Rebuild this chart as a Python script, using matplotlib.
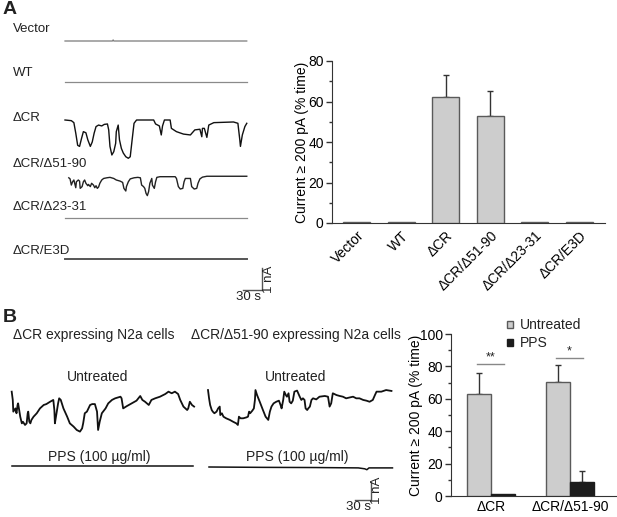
import numpy as np
import matplotlib.pyplot as plt
from matplotlib.patches import Patch
from matplotlib.transforms import ScaledTranslation

plt.rcParams['font.family'] = ['Liberation Sans', 'DejaVu Sans']
plt.rcParams['font.size'] = 10
plt.rcParams['text.color'] = '#222222'

W, H = 617, 517  # figure size in px

# ---- panel A bar data ----
groups_a = ['Vector', 'WT', 'ΔCR', 'ΔCR/Δ51-90', 'ΔCR/Δ23-31', 'ΔCR/E3D']
pct_a = [0.7, 0.7, 62.1, 52.7, 0.7, 0.7]
err_a = [0, 0, 11.0, 12.5, 0, 0]

# ---- panel B bar data ----
groups_b = ['ΔCR', 'ΔCR/Δ51-90']
untreated_b = [62.8, 70.6]
untreated_err_b = [13.4, 10.4]
pps_b = [1.0, 8.5]
pps_err_b = [0, 7.0]
sig_b = ['**', '*']
sig_level_b = [81.6, 85.3]

# ---- panel A traces (time s, current nA, relative to baseline) ----
t_vec = [0, 75, 76, 77, 287]
i_vec = [0, 0, 0.05, 0, 0]
t_wt = [0, 287]
i_wt = [0, 0]
t_cr = [0, 10, 14, 17, 20, 23, 26, 29, 33, 36, 40, 43, 46, 49, 53, 58, 62, 67, 69, 71,
        74, 77, 80, 81, 84, 86, 89, 92, 96, 100, 103, 106, 109, 113, 140, 143, 149, 152, 154, 157,
        166, 168, 176, 187, 198, 201, 205, 213, 216, 217, 220, 224, 227, 235, 266, 273, 276, 277, 280, 284,
        287]
i_cr = [0, -0.03, -0.12, -0.6, -1.15, -1.2, -0.85, -0.53, -0.58, -0.9,
        -1.2, -1.0, -0.6, -0.3, -0.23, -0.27, -0.2, -0.18, -0.45, -1.2,
        -1.59, -1.44, -1.06, -0.53, -0.23, -0.9, -1.29, -1.5, -1.67, -1.74,
        -1.67, -0.9, -0.15, 0, 0, -0.18, -0.27, -0.68, -0.27, 0,
        0, -0.38, -0.53, -0.64, -0.68, -0.58, -0.45, -0.42, -0.76, -0.38,
        -0.38, -0.79, -0.23, -0.12, -0.09, -0.15, -0.9, -1.2, -0.68, -0.3,
        -0.15]
t_cr51 = [6, 8, 10, 12, 14, 17, 18, 21, 23, 24, 27, 29, 31, 33, 36, 37, 40, 42, 45, 47,
          49, 51, 53, 55, 58, 61, 66, 71, 77, 81, 87, 91, 93, 96, 97, 100, 103, 109, 115, 119,
          121, 124, 126, 128, 130, 132, 134, 137, 138, 141, 143, 145, 150, 174, 176, 179, 182, 186, 188, 190,
          198, 200, 204, 208, 210, 213, 217, 224, 287]
i_cr51 = [-0.05, -0.1, -0.38, -0.23, -0.15, -0.5, -0.23, -0.15, -0.2, -0.53,
          -0.45, -0.23, -0.15, -0.3, -0.41, -0.35, -0.45, -0.3, -0.38, -0.5,
          -0.41, -0.53, -0.47, -0.3, -0.15, -0.08, -0.05, -0.03, -0.08, -0.15,
          -0.2, -0.26, -0.53, -0.65, -0.45, -0.23, -0.1, -0.05, -0.03, -0.05,
          -0.38, -0.45, -0.53, -0.76, -0.86, -0.68, -0.3, -0.08, -0.38, -0.53,
          -0.23, -0.03, 0, 0, -0.08, -0.45, -0.56, -0.53, -0.23, -0.08,
          -0.08, -0.45, -0.56, -0.53, -0.3, -0.1, -0.02, 0.02, 0.02]
t_cr23 = [0, 287]
i_cr23 = [0, 0]
t_e3d = [0, 287]
i_e3d = [0, 0]

# ---- panel B traces ----
t_b_cr = [0, 2, 3, 7, 9, 11, 12, 15, 16, 19, 21, 25, 28, 30, 31, 33, 35, 37, 41, 47,
          53, 60, 65, 72, 78, 80, 81, 83, 87, 89, 92, 97, 104, 109, 116, 122, 128, 132, 134, 137,
          141, 147, 151, 156, 160, 162, 165, 169, 176, 181, 188, 194, 204, 206, 209, 216, 225, 234, 241, 245,
          250, 257, 262, 269, 278, 288, 294, 300, 306, 312, 316, 322, 329, 331, 334, 338, 342]
i_b_cr = [-0.37, -0.83, -1.48, -1.30, -1.57, -1.11, -1.02, -1.57, -1.76, -2.13,
          -2.04, -2.22, -2.13, -1.57, -1.48, -2.04, -2.13, -1.94, -1.76, -1.57,
          -1.30, -1.11, -1.06, -0.93, -0.83, -1.39, -2.13, -1.76, -1.02, -0.74,
          -0.83, -1.30, -1.76, -2.13, -2.31, -2.50, -2.59, -2.41, -2.13, -1.57,
          -1.48, -1.11, -1.06, -1.06, -1.48, -2.50, -2.04, -1.57, -1.30, -1.02,
          -0.83, -0.74, -0.65, -0.74, -1.30, -1.17, -1.02, -0.87, -0.61, -0.83,
          -0.93, -1.11, -0.83, -0.74, -0.65, -0.50, -0.37, -0.46, -0.37, -0.50,
          -0.83, -1.20, -1.39, -1.30, -0.93, -1.11, -1.20]
t_b_cr51 = [0, 2, 4, 7, 9, 12, 16, 19, 22, 23, 26, 29, 34, 41, 47, 53, 56, 58, 61, 66,
            72, 75, 77, 79, 83, 86, 88, 89, 92, 97, 103, 108, 113, 116, 119, 123, 128, 133, 136, 138,
            141, 143, 146, 148, 151, 153, 156, 159, 162, 167, 172, 175, 178, 181, 183, 186, 188, 191, 194, 197,
            203, 209, 219, 225, 228, 231, 234, 241, 247, 253, 259, 266, 272, 278, 284, 291, 297, 303, 309, 313,
            316, 325, 334, 344]
i_b_cr51 = [-0.28, -0.74, -1.11, -1.39, -1.48, -1.57, -1.48, -1.30, -1.20, -1.67,
            -1.57, -1.76, -1.85, -1.94, -2.04, -2.13, -2.22, -1.76, -1.85, -1.85,
            -1.80, -1.76, -1.48, -1.57, -1.43, -1.30, -0.83, -0.28, -0.56, -0.93,
            -1.39, -1.76, -1.94, -1.48, -1.20, -1.02, -0.93, -0.87, -1.11, -1.30,
            -0.83, -0.37, -0.56, -0.65, -0.46, -0.93, -1.02, -0.87, -0.37, -0.31,
            -0.65, -0.83, -0.74, -0.83, -1.30, -1.39, -1.30, -1.20, -0.83, -0.74,
            -0.80, -0.65, -0.61, -0.65, -1.20, -1.02, -0.46, -0.56, -0.61, -0.65,
            -0.74, -0.69, -0.65, -0.74, -0.74, -0.83, -0.87, -0.93, -0.83, -0.56,
            -0.37, -0.37, -0.28, -0.33]
t_b_pps_cr = [0, 340]
i_b_pps_cr = [0, 0]
t_b_pps_cr51 = [0, 100, 200, 280, 292, 296, 300, 344]
i_b_pps_cr51 = [0, -0.02, -0.03, -0.05, -0.1, -0.15, -0.05, -0.05]


def fx(px):
    return px / W


def fy(py):
    return 1 - py / H


fig = plt.figure(figsize=(W / 100, H / 100), dpi=100)


def ftext(x, y, s, **kw):
    kw.setdefault('ha', 'center')
    kw.setdefault('va', 'center')
    fig.text(fx(x), fy(y), s, **kw)


# panel letters
ftext(3, 10, 'A', ha='left', fontsize=14, fontweight='bold')
ftext(3, 318, 'B', ha='left', fontsize=14, fontweight='bold')

# ---------- panel A traces ----------
s_per_px_a, px_per_na_a = 30 / 19, 22
axt = fig.add_axes([fx(60), fy(310), 240 / W, 290 / H])
axt.set_xlim(0, 240 * s_per_px_a)
axt.set_ylim(-290 / px_per_na_a, 0)
axt.axis('off')
t0 = 5 * s_per_px_a
rows_a = [
    ('Vector', t_vec, i_vec, 41, '#7a7a7a', 0.9, 29),
    ('WT', t_wt, i_wt, 82, '#8a8a8a', 0.9, 73),
    ('ΔCR', t_cr, i_cr, 120, '#111111', 1.0, 118),
    ('ΔCR/Δ51-90', t_cr51, i_cr51, 176.7, '#222222', 1.0, 164),
    ('ΔCR/Δ23-31', t_cr23, i_cr23, 218, '#8a8a8a', 0.9, 207),
    ('ΔCR/E3D', t_e3d, i_e3d, 259, '#555555', 1.4, 251),
]
for name, t, cur, base_px, col, lw, label_y in rows_a:
    off = -(base_px - 20) / px_per_na_a
    axt.plot(t0 + np.array(t), off + np.array(cur), color=col, lw=lw)
    ftext(13, label_y, name, ha='left', fontsize=9.5)

# scale bar A
sx = (262 - 60) * s_per_px_a
sy = -(290 - 20) / px_per_na_a
axt.plot([sx - 30, sx, sx], [sy, sy, sy + 1], color='#555555', lw=1)
ftext(248.5, 297, '30 s', fontsize=9.5)
ftext(269.5, 279, '1 nA', fontsize=9.5, rotation=90)

# ---------- panel A bars ----------
axa = fig.add_axes([fx(332), fy(223), 273 / W, 162 / H])
xa = np.arange(len(groups_a))
axa.bar(xa, pct_a, width=0.6, color='#cdcdcd', edgecolor='#5a5a5a', linewidth=1, zorder=3)
ma = np.array(err_a) > 0
axa.errorbar(xa[ma], np.array(pct_a)[ma], yerr=[np.zeros(ma.sum()), np.array(err_a)[ma]],
             fmt='none', ecolor='#333333', elinewidth=1, capsize=2.5, capthick=1, zorder=2)
axa.set_xlim(-0.555, 5.58)
axa.set_ylim(0, 80)
axa.set_yticks(np.arange(0, 81, 20))
axa.set_yticks(np.arange(10, 80, 20), minor=True)
axa.set_xticks(xa)
axa.set_xticklabels(groups_a, rotation=45, ha='right', rotation_mode='anchor')
for lab in axa.get_xticklabels():
    lab.set_transform(lab.get_transform() + ScaledTranslation(7 / 72, 0, fig.dpi_scale_trans))
axa.tick_params(axis='x', length=0, pad=4, labelsize=10)
axa.tick_params(axis='y', direction='out', length=4, width=1, labelsize=10, pad=2, color='#333333')
axa.tick_params(axis='y', which='minor', direction='out', length=2.5, width=1, color='#333333')
for sp in ['top', 'right']:
    axa.spines[sp].set_visible(False)
for sp in ['left', 'bottom']:
    axa.spines[sp].set_color('#333333')
axa.set_ylabel('Current ≥ 200 pA (% time)', fontsize=10)
axa.yaxis.set_label_coords(-0.084, 0.5)

# ---------- panel B traces ----------
s_per_px_b, px_per_na_b = 30 / 16, 18
axu = fig.add_axes([0, fy(517), 400 / W, 147 / H])
axu.set_xlim(0, 400 * s_per_px_b)
axu.set_ylim(-(517 - 385) / px_per_na_b, (385 - 370) / px_per_na_b)
axu.axis('off')
rows_b = [
    (t_b_cr, i_b_cr, 11.7, 385, '#111111', 1.3),
    (t_b_cr51, i_b_cr51, 208, 385, '#111111', 1.3),
    (t_b_pps_cr, i_b_pps_cr, 12, 466, '#111111', 1.1),
    (t_b_pps_cr51, i_b_pps_cr51, 209, 467, '#111111', 1.1),
]
for t, cur, x_px, base_px, col, lw in rows_b:
    off = -(base_px - 385) / px_per_na_b
    axu.plot(x_px * s_per_px_b + np.array(t), off + np.array(cur), color=col, lw=lw)

ftext(94, 335, 'ΔCR expressing N2a cells')
ftext(296, 335, 'ΔCR/Δ51-90 expressing N2a cells')
ftext(98, 377, 'Untreated')
ftext(296, 377, 'Untreated')
ftext(99, 457, 'PPS (100 µg/ml)')
ftext(297, 457, 'PPS (100 µg/ml)')

# scale bar B
sx = 371 * s_per_px_b
sy = -(500 - 385) / px_per_na_b
axu.plot([sx - 30, sx, sx], [sy, sy, sy + 1], color='#555555', lw=1)
ftext(358, 507, '30 s', fontsize=9.5)
ftext(377, 490, '1 nA', fontsize=9.5, rotation=90)

# ---------- panel B bars ----------
axb = fig.add_axes([fx(451), fy(496), 166 / W, 162 / H])
xb = np.arange(len(groups_b))
bw = 0.3
axb.bar(xb - bw / 2, untreated_b, width=bw, color='#cdcdcd', edgecolor='#5a5a5a', linewidth=1, zorder=3)
axb.bar(xb + bw / 2, pps_b, width=bw, color='#1c1c1c', edgecolor='#1c1c1c', linewidth=1, zorder=3)
axb.errorbar(xb - bw / 2, untreated_b, yerr=[[0, 0], untreated_err_b], fmt='none',
             ecolor='#333333', elinewidth=1, capsize=2.5, capthick=1, zorder=2)
axb.errorbar([xb[1] + bw / 2], [pps_b[1]], yerr=[[0], [pps_err_b[1]]], fmt='none',
             ecolor='#333333', elinewidth=1, capsize=2.5, capthick=1, zorder=2)
for i, (s, lvl) in enumerate(zip(sig_b, sig_level_b)):
    axb.plot([xb[i] - 0.18, xb[i] + 0.16], [lvl, lvl], color='#888888', lw=1)
    axb.text(xb[i] - 0.01, lvl + 0.5, s, ha='center', va='bottom', fontsize=9)
axb.set_xlim(-0.506, 1.595)
axb.set_ylim(0, 100)
axb.set_yticks(np.arange(0, 101, 20))
axb.set_yticks(np.arange(10, 100, 20), minor=True)
axb.set_xticks(xb)
axb.set_xticklabels(groups_b)
axb.tick_params(axis='x', length=0, pad=3, labelsize=10)
axb.tick_params(axis='y', direction='out', length=4, width=1, labelsize=10, pad=2, color='#333333')
axb.tick_params(axis='y', which='minor', direction='out', length=2.5, width=1, color='#333333')
for sp in ['top', 'right']:
    axb.spines[sp].set_visible(False)
for sp in ['left', 'bottom']:
    axb.spines[sp].set_color('#333333')
axb.set_ylabel('Current ≥ 200 pA (% time)', fontsize=10)
axb.yaxis.set_label_coords(-0.169, 0.5)

handles = [Patch(facecolor='#cdcdcd', edgecolor='#5a5a5a', label='Untreated'),
           Patch(facecolor='#1c1c1c', edgecolor='#1c1c1c', label='PPS')]
axb.legend(handles=handles, loc='upper left', bbox_to_anchor=(fx(507), fy(318)),
           bbox_transform=fig.transFigure, frameon=False, fontsize=10,
           handlelength=0.4, handleheight=0.4, handletextpad=0.5, labelspacing=0.3,
           borderpad=0, borderaxespad=0)

fig.savefig('out.png', dpi=100)
